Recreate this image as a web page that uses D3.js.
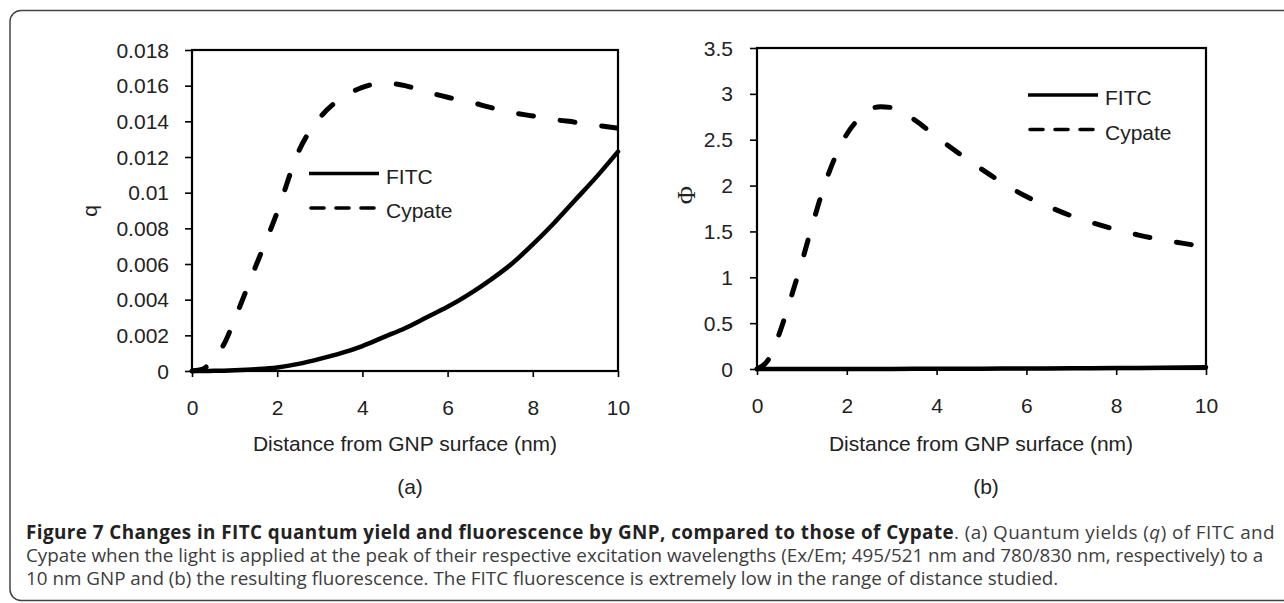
<!DOCTYPE html>
<html>
<head>
<meta charset="utf-8">
<script src="https://cdn.jsdelivr.net/npm/d3@7/dist/d3.min.js"></script>
<style>
  html, body { margin: 0; padding: 0; background: #fff; }
  svg { display: block; }
  .ax text { font-family: "Liberation Sans", Arial, sans-serif; font-size: 21px; fill: #222; }
  .lbl { font-family: "Liberation Sans", Arial, sans-serif; font-size: 21px; fill: #222; }
  .cap { font-family: "Open Sans", "Noto Sans", sans-serif; fill: #3d3d3d; }
</style>
</head>
<body>
<svg id="fig" width="1284" height="603"></svg>
<script>
// ---------- data ----------
const xTicks = [0, 2, 4, 6, 8, 10];
const qTicks = [0, 0.002, 0.004, 0.006, 0.008, 0.01, 0.012, 0.014, 0.016, 0.018];
const qTickLabels = ["0", "0.002", "0.004", "0.006", "0.008", "0.01", "0.012", "0.014", "0.016", "0.018"];
const phiTicks = [0, 0.5, 1, 1.5, 2, 2.5, 3, 3.5];
const phiTickLabels = ["0", "0.5", "1", "1.5", "2", "2.5", "3", "3.5"];
const seriesNames = ["FITC", "Cypate"];

const qDistance = [0, 0.25, 0.5, 0.75, 1, 1.5, 2, 2.5, 3, 3.5, 4, 4.5, 5, 5.5, 6, 6.5, 7, 7.5, 8, 8.5, 9, 9.5, 10];
const qCypate = [0, 0.0001, 0.0007, 0.0015, 0.0029, 0.0059, 0.0089, 0.0123, 0.0142, 0.0153, 0.0159, 0.01615, 0.0160, 0.01565, 0.01535, 0.0151, 0.01478, 0.0145, 0.0143, 0.0141, 0.01395, 0.01378, 0.01362];
const qFitc = [0, 0, 0.00001, 0.00002, 0.00004, 0.0001, 0.0002, 0.0004, 0.00068, 0.001, 0.0014, 0.0019, 0.0024, 0.003, 0.0036, 0.0043, 0.0051, 0.006, 0.0071, 0.0083, 0.0096, 0.0109, 0.0123];

const phiDistance = [0, 0.25, 0.5, 0.75, 1, 1.25, 1.5, 1.75, 2, 2.25, 2.5, 2.75, 3, 3.5, 4, 4.5, 5, 5.5, 6, 6.5, 7, 7.5, 8, 8.5, 9, 9.5, 10];
const phiCypate = [0, 0.1, 0.39, 0.77, 1.17, 1.6, 2.0, 2.32, 2.56, 2.72, 2.83, 2.86, 2.85, 2.72, 2.53, 2.35, 2.18, 2.02, 1.88, 1.77, 1.67, 1.59, 1.52, 1.46, 1.41, 1.37, 1.33];
const phiFitcDistance = [0, 1, 2, 3, 4, 5, 6, 7, 8, 9, 10];
const phiFitc = [0, 0.0001, 0.0004, 0.001, 0.002, 0.0035, 0.005, 0.007, 0.01, 0.014, 0.018];

const xTitle = "Distance from GNP surface (nm)";

// ---------- drawing ----------
const svg = d3.select("#fig");

// outer rounded frame (right side runs off the page)
svg.append("rect")
  .attr("x", 10).attr("y", 10.5).attr("width", 1320).attr("height", 590)
  .attr("rx", 11).attr("ry", 11)
  .attr("fill", "none").attr("stroke", "#444").attr("stroke-width", 1.5);

function panel(cfg) {
  const g = svg.append("g");
  const x = d3.scaleLinear().domain([0, 10]).range([cfg.left, cfg.right]);
  const y = d3.scaleLinear().domain([0, cfg.ymax]).range([cfg.bottom, cfg.top]);

  // y axis
  const ya = g.append("g").attr("class", "ax")
    .attr("transform", `translate(${cfg.left},0)`)
    .call(d3.axisLeft(y).tickValues(cfg.yTicks)
      .tickFormat((d, i) => cfg.yLabels[i])
      .tickSize(7).tickSizeOuter(0).tickPadding(cfg.yPad));
  ya.select(".domain").remove();
  ya.selectAll(".tick line").attr("stroke", "#000").attr("stroke-width", 1.6);
  ya.selectAll(".tick text").attr("dy", "0.34em");

  // x axis
  const xa = g.append("g").attr("class", "ax")
    .attr("transform", `translate(0,${cfg.bottom})`)
    .call(d3.axisBottom(x).tickValues(xTicks).tickFormat(d3.format("d"))
      .tickSize(6).tickSizeOuter(0).tickPadding(23));
  xa.select(".domain").remove();
  xa.selectAll(".tick line").attr("stroke", "#000").attr("stroke-width", 1.6);

  // curves
  const line = d3.line().x(d => x(d[0])).y(d => y(d[1])).curve(d3.curveMonotoneX);
  const fitcPts = cfg.fitcX.map((d, i) => [d, cfg.fitc[i]]);
  const cyPts = cfg.cyX.map((d, i) => [d, cfg.cypate[i]]);

  // frame
  g.append("rect")
    .attr("x", cfg.left).attr("y", cfg.top)
    .attr("width", cfg.right - cfg.left).attr("height", cfg.bottom - cfg.top)
    .attr("fill", "none").attr("stroke", "#000").attr("stroke-width", 2.2);

  g.append("path").attr("d", line(fitcPts))
    .attr("fill", "none").attr("stroke", "#000").attr("stroke-width", 4.5)
    .attr("stroke-linecap", "round");
  g.append("path").attr("d", line(cyPts))
    .attr("fill", "none").attr("stroke", "#000").attr("stroke-width", 5)
    .attr("stroke-linecap", "round").attr("stroke-dasharray", "15,27");

  // legend
  const lg = g.append("g");
  seriesNames.forEach((name, i) => {
    const ly = cfg.legY[i];
    lg.append("line")
      .attr("x1", cfg.legX).attr("x2", cfg.legX + 70)
      .attr("y1", ly).attr("y2", ly)
      .attr("stroke", "#000").attr("stroke-width", 3.6)
      .attr("stroke-linecap", i === 1 ? "round" : "butt")
      .attr("stroke-dasharray", i === 1 ? "13,12" : null)
      .attr("transform", i === 1 ? "translate(2,0)" : null);
    lg.append("text").attr("class", "lbl")
      .attr("x", cfg.legX + 77).attr("y", ly + 10)
      .text(name);
  });

  // axis titles
  g.append("text").attr("class", "lbl")
    .attr("x", cfg.xTitleX).attr("y", 451).attr("text-anchor", "middle")
    .text(xTitle);
  g.append("text").attr("class", "lbl")
    .attr("x", cfg.xTitleX + 5).attr("y", 494).attr("text-anchor", "middle")
    .text(cfg.panelLabel);
  g.append("text").attr("class", "lbl")
    .attr("transform", `translate(${cfg.yTitleX},${cfg.yTitleY}) rotate(-90)`)
    .attr("text-anchor", "middle").attr("dy", "0.35em")
    .style("font-family", cfg.yTitleFont || null)
    .style("font-size", cfg.yTitleSize ? cfg.yTitleSize + "px" : null)
    .text(cfg.yTitle);
}

panel({
  left: 192, right: 618, top: 50, bottom: 371, ymax: 0.018,
  yTicks: qTicks, yLabels: qTickLabels, yPad: 16,
  fitcX: qDistance, fitc: qFitc, cyX: qDistance, cypate: qCypate,
  legX: 309, legY: [173.5, 208],
  xTitleX: 405, panelLabel: "(a)",
  yTitle: "q", yTitleX: 90, yTitleY: 211
});

panel({
  left: 757, right: 1206, top: 48, bottom: 369, ymax: 3.5,
  yTicks: phiTicks, yLabels: phiTickLabels, yPad: 17,
  fitcX: phiFitcDistance, fitc: phiFitc, cyX: phiDistance, cypate: phiCypate,
  legX: 1028, legY: [95, 129.5],
  xTitleX: 981, panelLabel: "(b)",
  yTitle: "\u03A6", yTitleX: 686, yTitleY: 195,
  yTitleFont: "'Liberation Serif', serif", yTitleSize: 25
});

// ---------- caption ----------
const capLines = [
  [
    { t: "Figure 7 Changes in FITC quantum yield and fluorescence by GNP, compared to those of Cypate", w: "bold" },
    { t: ". (a) Quantum yields (" },
    { t: "q", s: "italic" },
    { t: ") of FITC and" }
  ],
  [ { t: "Cypate when the light is applied at the peak of their respective excitation wavelengths (Ex/Em; 495/521 nm and 780/830 nm, respectively) to a" } ],
  [ { t: "10 nm GNP and (b) the resulting fluorescence. The FITC fluorescence is extremely low in the range of distance studied." } ]
];
const capBase = [539, 562, 585];
const capWidth = [1249, 1238, 1042];
const capNodes = capLines.map((parts, i) => {
  const t = svg.append("text").attr("class", "cap")
    .attr("x", 26).attr("y", capBase[i]).style("font-size", "16px");
  parts.forEach(p => {
    const ts = t.append("tspan").text(p.t);
    if (p.w) ts.attr("font-weight", p.w).style("fill", "#222");
    if (p.s) ts.attr("font-style", p.s);
  });
  return t;
});
// size the font so the (plain) second line spans its width in the reference
const w1 = capNodes[1].node().getComputedTextLength();
const fs = 16 * capWidth[1] / w1;
capNodes.forEach(t => t.style("font-size", fs + "px"));
// first line carries bold text; tighten its letter spacing to the reference length
const w0 = capNodes[0].node().getComputedTextLength();
const nChars = capLines[0].reduce((s, p) => s + p.t.length, 0);
const ls = (capWidth[0] - w0) / nChars;
capNodes[0].style("letter-spacing", ls + "px");
</script>
</body>
</html>
